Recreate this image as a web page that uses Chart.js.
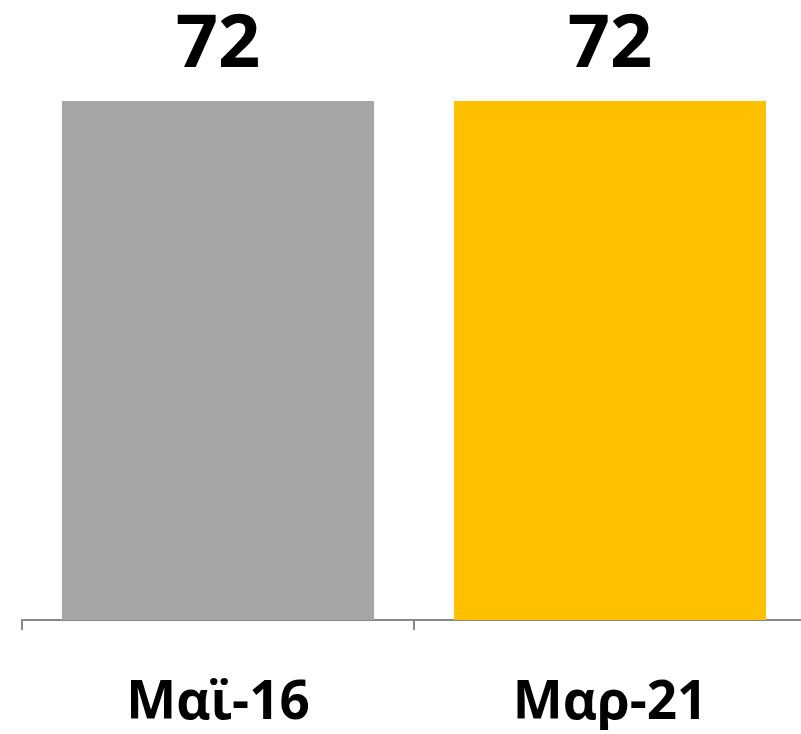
<!DOCTYPE html>
<html>
<head>
<meta charset="utf-8">
<script src="https://cdn.jsdelivr.net/npm/chart.js@4/dist/chart.umd.min.js"></script>
<style>
  html, body { margin: 0; padding: 0; background: #fff; overflow: hidden; }
  #wrap { width: 801px; height: 734px; overflow: hidden; }
</style>
</head>
<body>
<div id="wrap"><canvas id="chart" width="810" height="734"></canvas></div>
<script>
const categories = ['Μαϊ-16', 'Μαρ-21'];
const values = [72, 72];
const barColors = ['#A6A6A6', '#FFC000'];

// draw the value above each bar
const valueLabels = {
    id: 'valueLabels',
    afterDatasetsDraw(chart) {
        const ctx = chart.ctx;
        const meta = chart.getDatasetMeta(0);
        ctx.save();
        ctx.font = 'bold 74px "Open Sans", "Liberation Sans", sans-serif';
        ctx.fillStyle = '#000';
        ctx.textAlign = 'center';
        ctx.textBaseline = 'alphabetic';
        meta.data.forEach((bar, i) => {
            ctx.fillText(values[i], bar.x, bar.y - 34);
        });
        ctx.restore();
    }
};

const ctx = document.getElementById('chart').getContext('2d');
const myChart = new Chart(ctx, {
    type: 'bar',
    data: {
        labels: categories,
        datasets: [{
            data: values,
            backgroundColor: barColors,
            borderWidth: 0,
            categoryPercentage: 1,
            barPercentage: 0.796
        }]
    },
    options: {
        responsive: false,
        animation: false,
        layout: { padding: { left: 22, right: 4, top: 101, bottom: 4 } },
        plugins: {
            legend: { display: false },
            tooltip: { enabled: false }
        },
        scales: {
            x: {
                afterFit: (scale) => { scale.height = 110; },
                grid: {
                    offset: true,
                    drawOnChartArea: false,
                    drawTicks: true,
                    tickLength: 10,
                    color: '#888',
                    lineWidth: 2
                },
                border: { display: true, color: '#888', width: 2 },
                ticks: {
                    color: '#000',
                    padding: 42,
                    font: { family: '"Open Sans", "Liberation Sans", sans-serif', size: 53, weight: 'bold' }
                }
            },
            y: {
                display: false,
                min: 0,
                max: 72
            }
        }
    },
    plugins: [valueLabels]
});
</script>
</body>
</html>
